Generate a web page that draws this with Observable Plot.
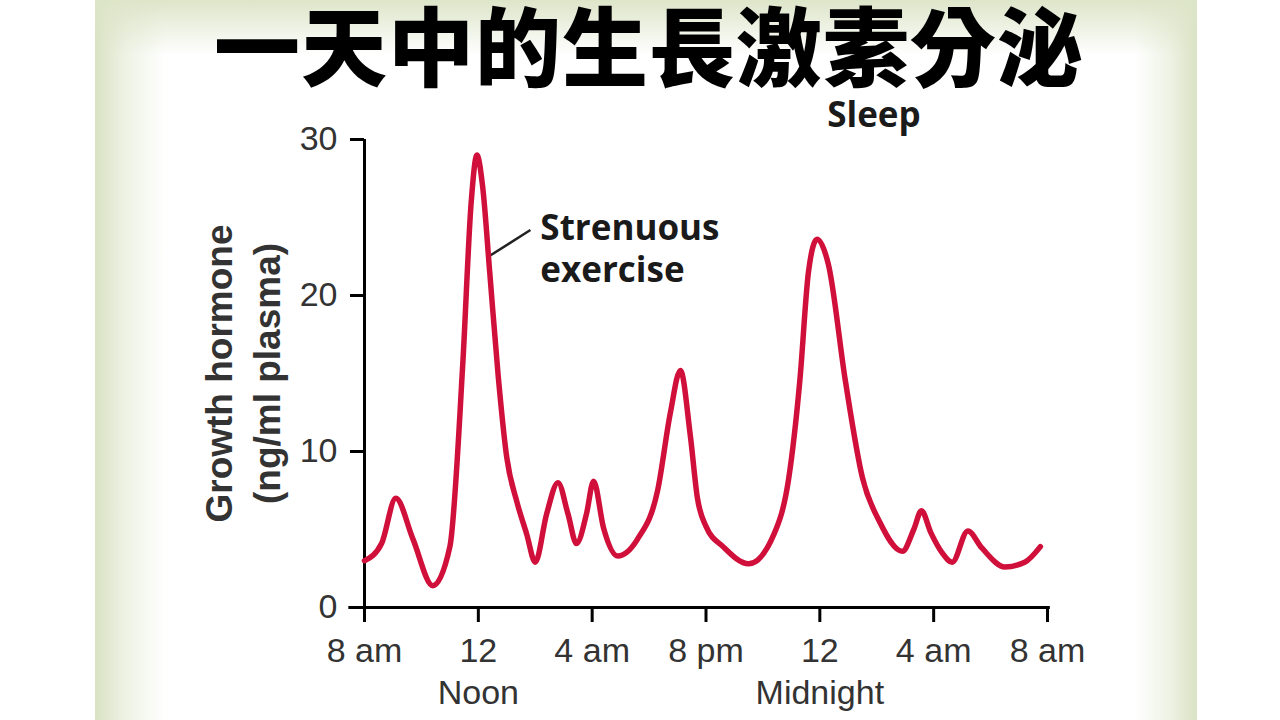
<!DOCTYPE html>
<html>
<head>
<meta charset="utf-8">
<script src="https://cdn.jsdelivr.net/npm/d3@7"></script>
<script src="https://cdn.jsdelivr.net/npm/@observablehq/plot@0.6"></script>
<style>
  html, body { margin: 0; padding: 0; background: #fff; }
  #slide {
    position: relative; width: 1280px; height: 720px; overflow: hidden; background: #fff;
  }
  #panel {
    position: absolute; left: 95px; top: 0; width: 1102px; height: 720px;
    background:
      linear-gradient(to bottom, #dde5c9 0px, rgba(255,255,255,0) 55px),
      linear-gradient(to right, #d9e2c3 0px, #eef2e4 30px, rgba(255,255,255,0) 70px, rgba(255,255,255,0) 1040px, #eef2e4 1075px, #d9e2c3 1102px),
      #fff;
  }
  #title {
    position: absolute; left: 0; width: 1298px; top: 0; text-align: center;
    font-family: "Noto Sans CJK TC", "Noto Sans CJK SC", sans-serif;
    font-weight: 900; font-size: 86px; line-height: 86px; letter-spacing: 1px; color: #000;
  }
  #chart { position: absolute; left: 0; top: 0; }
</style>
</head>
<body>
<div id="slide">
  <div id="panel"></div>
  <div id="title">一天中的生長激素分泌</div>
  <div id="chart"></div>
</div>
<script>
// hours after 8 am, growth hormone (ng/ml plasma)
const hours = [0, 0.6, 1.1, 1.7, 2.4, 3.0, 3.45, 3.75, 3.95, 4.15, 4.4, 4.7, 5.0, 5.35, 5.7, 6.0,
  6.4, 6.8, 7.15, 7.45, 7.8, 8.05, 8.4, 8.9, 9.6, 10.3, 10.75, 11.1, 11.45, 11.7, 12.0, 12.6,
  13.5, 14.4, 14.9, 15.3, 15.6, 15.9, 16.3, 16.9, 17.5, 18.1, 18.9, 19.3, 19.57, 19.9, 20.3,
  20.65, 21.2, 21.7, 22.5, 23.2, 23.75];
const hormone = [3.0, 4.1, 7.0, 4.4, 1.4, 3.9, 15.5, 26, 29.0, 27, 21.5, 14.8, 9.6, 6.8, 4.7, 2.9,
  6.0, 8.0, 6.0, 4.1, 6.0, 8.1, 5.1, 3.3, 4.4, 7.5, 12.5, 15.2, 11.0, 7.0, 5.2, 3.9,
  2.8, 4.75, 8.2, 14.6, 21.5, 23.6, 22.0, 14.5, 8.3, 5.5, 3.6, 5.0, 6.2, 4.8, 3.5,
  2.9, 4.9, 3.8, 2.6, 2.9, 3.9];

const xTicks = [0, 4, 8, 12, 16, 20, 24];
const xTickLabels = ["8 am", "12", "4 am", "8 pm", "12", "4 am", "8 am"];
const subTicks = [4, 16];
const subLabels = ["Noon", "Midnight"];
const yTicks = [0, 10, 20, 30];

const yLabel = "Growth hormone\n(ng/ml plasma)";
const exerciseNote = [{x: 6.18, y: 23.1, text: "Strenuous\nexercise"}];
const sleepNote = [{x: 17.9, y: 31.5, text: "Sleep"}];
const pointer = [{x1: 4.36, y1: 22.5, x2: 5.83, y2: 24.2}];

const data = hours.map((h, i) => ({h, v: hormone[i]}));

const noteStyle = {fontFamily: "Open Sans", fontWeight: 700, fontSize: 35, fill: "#1a1a1a"};

const chart = Plot.plot({
  width: 1280,
  height: 720,
  marginLeft: 364,
  marginRight: 233,
  marginTop: 139,
  marginBottom: 113,
  style: {background: "transparent", fontFamily: "Liberation Sans, Arial, sans-serif", color: "#333"},
  x: {domain: [0, 24]},
  y: {domain: [0, 30]},
  marks: [
    Plot.axisY({ticks: yTicks, tickSize: 14, tickPadding: 13, fontSize: 34, stroke: "#000", strokeWidth: 3, fill: "#333", label: null}),
    Plot.axisX({ticks: xTicks, tickFormat: (d, i) => xTickLabels[i], tickSize: 15, tickPadding: 15,
      fontSize: 34, stroke: "#000", strokeWidth: 3, fill: "#333", label: null}),
    Plot.text(subTicks, {x: d => d, text: (d, i) => subLabels[i], frameAnchor: "bottom", dy: 86,
      fontSize: 34, fill: "#333", lineAnchor: "middle"}),
    Plot.ruleX([0], {y1: 0, y2: 30, stroke: "#000", strokeWidth: 3}),
    Plot.ruleY([0], {x1: -0.55, x2: 24.1, stroke: "#000", strokeWidth: 3}),
    Plot.text([yLabel], {frameAnchor: "left", dx: -124, rotate: -90, fontSize: 37, fontWeight: "bold",
      fill: "#333", lineHeight: 1.3, lineAnchor: "middle", textAnchor: "middle"}),
    Plot.link(pointer, {x1: "x1", y1: "y1", x2: "x2", y2: "y2", stroke: "#222", strokeWidth: 2.5}),
    Plot.line(data, {x: "h", y: "v", curve: "monotone-x", stroke: "#d0103a", strokeWidth: 5.5,
      strokeLinejoin: "round", strokeLinecap: "round"}),
    Plot.text(exerciseNote, {x: "x", y: "y", text: "text", textAnchor: "start", lineHeight: 1.2,
      lineAnchor: "middle", ...noteStyle}),
    Plot.text(sleepNote, {x: "x", y: "y", text: "text", textAnchor: "middle", lineAnchor: "middle", ...noteStyle})
  ]
});

document.getElementById("chart").append(chart);
</script>
</body>
</html>
